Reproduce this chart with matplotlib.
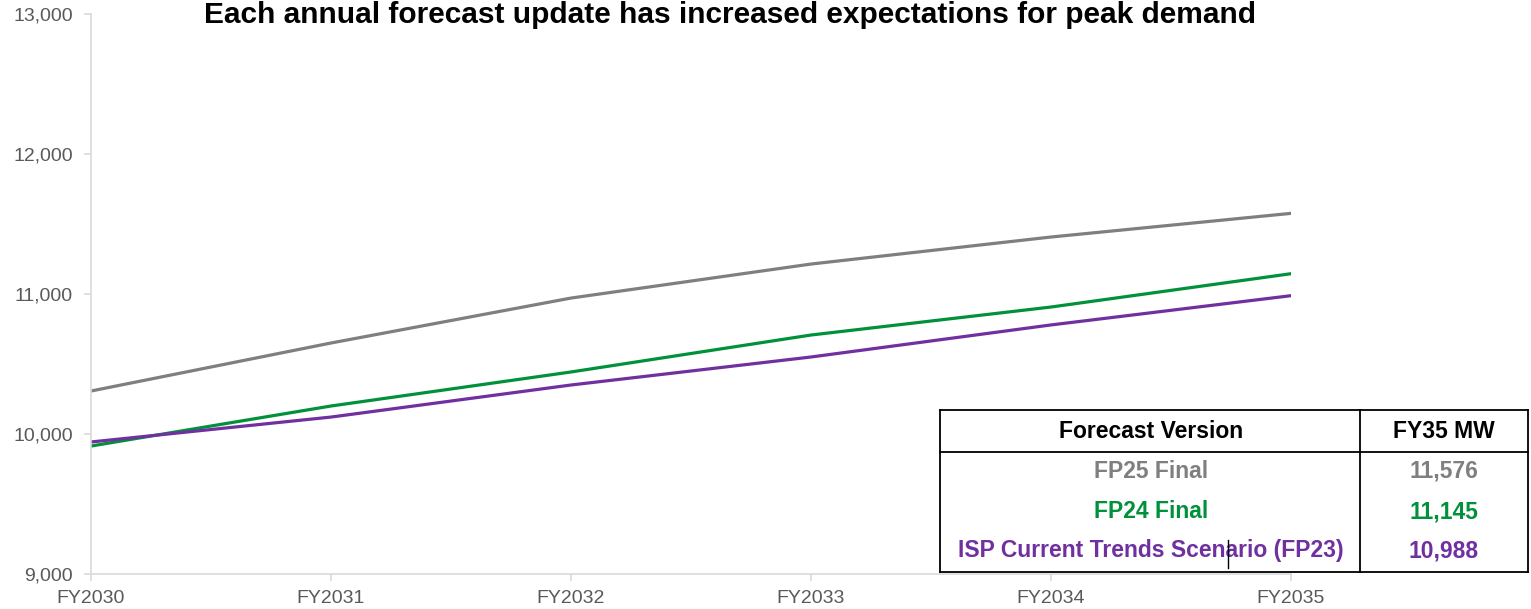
import matplotlib
matplotlib.use("Agg")
import matplotlib.pyplot as plt
from matplotlib.ticker import FuncFormatter

plt.rcParams['font.family'] = ['Liberation Sans', 'DejaVu Sans']

years = ["FY2030", "FY2031", "FY2032", "FY2033", "FY2034", "FY2035"]
fp25 = [10307, 10650, 10971, 11214, 11407, 11576]
fp24 = [9914, 10200, 10443, 10707, 10907, 11145]
isp = [9943, 10121, 10350, 10550, 10779, 10988]

series_names = ["FP25 Final", "FP24 Final", "ISP Current Trends Scenario (FP23)"]
fy35_values = ["11,576", "11,145", "10,988"]
colors = ["#7f7f7f", "#00913a", "#7030a0"]
title = "Each annual forecast update has increased expectations for peak demand"

W, H = 1531, 609
fig = plt.figure(figsize=(W/100, H/100), dpi=100)
ax = fig.add_axes([91/W, 1-574/H, 1200/W, 560/H])

x = list(range(len(years)))
for vals, c in zip([fp25, fp24, isp], colors):
    ax.plot(x, vals, color=c, lw=2.3, solid_capstyle='round')

ax.set_xlim(0, 5)
ax.set_ylim(9000, 13000)
ax.set_yticks([9000, 10000, 11000, 12000, 13000])
ax.yaxis.set_major_formatter(FuncFormatter(lambda v, p: f"{int(v):,}"))
ax.set_xticks(x)
ax.set_xticklabels(years)
for s in ['top', 'right']:
    ax.spines[s].set_visible(False)
for s in ['left', 'bottom']:
    ax.spines[s].set_color('#d9d9d9')
    ax.spines[s].set_linewidth(1.2)
ax.tick_params(axis='both', colors='#d9d9d9', labelcolor='#595959', labelsize=14, length=5, width=1.2)
ax.tick_params(axis='y', pad=8)
ax.tick_params(axis='x', pad=6.5)

fig.text(730/W, 1-15/H, title, ha='center', va='center', fontsize=21.5, fontweight='bold', color='black')

# Table
def fx(px): return px / W
def fy(py): return 1 - py / H
tl, tr, tmid = 940, 1528, 1360
ttop, thead, tbot = 410, 452, 572
lw = 1.3
fig.add_artist(plt.Rectangle((fx(tl), fy(tbot)), fx(tr) - fx(tl), fy(ttop) - fy(tbot),
                             facecolor='white', edgecolor='none', zorder=5))
for (x0, y0, x1, y1) in [(tl, ttop, tr, ttop), (tl, thead, tr, thead), (tl, tbot, tr, tbot),
                         (tl, ttop, tl, tbot), (tmid, ttop, tmid, tbot), (tr, ttop, tr, tbot)]:
    fig.add_artist(plt.Line2D([fx(x0), fx(x1)], [fy(y0), fy(y1)], color='black', lw=lw, zorder=6))
# stray cursor line in original
fig.add_artist(plt.Line2D([fx(1228), fx(1228)], [fy(540), fy(568)], color='black', lw=1.0, zorder=8))

ccol1 = 1151
ccol2 = 1444
fig.text(fx(ccol1), fy(432), "Forecast Version", ha='center', va='center', fontsize=16.5,
         fontweight='bold', color='black', zorder=7)
fig.text(fx(ccol2), fy(432), "FY35 MW", ha='center', va='center', fontsize=16.5,
         fontweight='bold', color='black', zorder=7)
row_y = [471, 512, 551]
for name, val, c, yy in zip(series_names, fy35_values, colors, row_y):
    fig.text(fx(ccol1), fy(yy), name, ha='center', va='center', fontsize=16.5,
             fontweight='bold', color=c, zorder=7)
    fig.text(fx(ccol2), fy(yy), val, ha='center', va='center', fontsize=16.5,
             fontweight='bold', color=c, zorder=7)

fig.savefig("out.png", dpi=100)
